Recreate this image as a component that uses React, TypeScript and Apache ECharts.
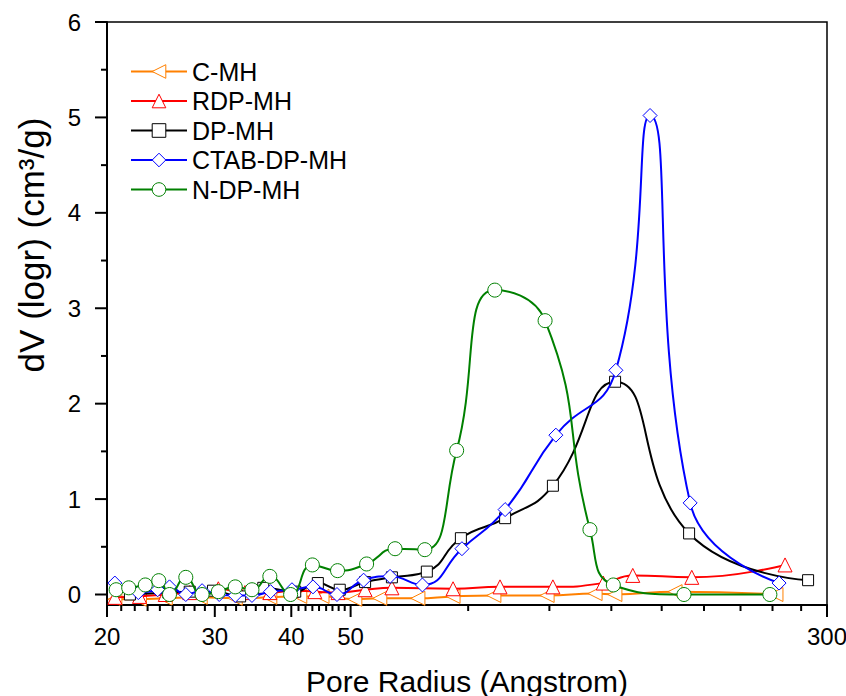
import React, { useEffect, useRef } from "react";
import * as echarts from "echarts";

const FONT = "'Liberation Sans', Arial, Helvetica, sans-serif";

const seriesNames = ["C-MH", "RDP-MH", "DP-MH", "CTAB-DP-MH", "N-DP-MH"];
const seriesColors = ["#FF8000", "#FF0000", "#000000", "#0000FF", "#008000"];

const cmhX = [20.6, 22.6, 24.9, 28.4, 32.4, 36.9, 41.3, 44.9, 50.8, 55.8, 64.4, 73.5, 85.7, 104.7, 125.4, 135.1, 169.4, 247.6];
const cmhY = [-0.05, -0.05, -0.04, -0.03, -0.04, -0.03, -0.02, -0.02, -0.05, -0.04, -0.04, -0.02, -0.01, -0.01, 0.01, 0.0, 0.03, 0.0];

const rdpX = [20.6, 22.6, 24.9, 27.3, 30.4, 33.6, 36.9, 40.1, 43.7, 47.7, 52.8, 58.4, 73.5, 87.7, 107.0, 129.3, 144.5, 180.4, 256.2];
const rdpY = [-0.03, -0.02, 0.0, 0.02, 0.06, 0.02, 0.02, 0.04, 0.03, 0.02, 0.05, 0.07, 0.06, 0.08, 0.08, 0.12, 0.2, 0.18, 0.31];

const dpX = [21.8, 25.2, 27.3, 29.8, 33.0, 36.0, 40.6, 44.2, 48.0, 52.8, 58.4, 66.6, 75.7, 89.4, 107.0, 135.2, 178.6, 279.4];
const dpY = [0.0, 0.02, 0.03, 0.04, -0.02, 0.07, 0.03, 0.12, 0.05, 0.13, 0.18, 0.24, 0.59, 0.8, 1.14, 2.23, 0.64, 0.15];

const ctabX = [20.6, 22.5, 24.2, 25.3, 26.9, 28.6, 30.5, 32.4, 34.5, 37.0, 40.1, 43.4, 47.5, 52.5, 58.0, 65.5, 76.0, 89.4, 108.2, 135.6, 154.2, 179.3, 250.5];
const ctabY = [0.12, 0.02, 0.05, 0.08, 0.0, 0.04, 0.0, -0.01, -0.01, 0.03, 0.05, 0.08, 0.0, 0.15, 0.19, 0.1, 0.48, 0.89, 1.67, 2.35, 5.02, 0.96, 0.12];

const ndpX = [20.7, 21.7, 23.1, 24.3, 25.3, 26.9, 28.6, 30.4, 32.4, 34.5, 36.9, 39.9, 43.3, 47.6, 53.1, 59.1, 66.1, 74.5, 86.0, 103.9, 123.0, 134.3, 175.2, 242.0];
const ndpY = [0.05, 0.07, 0.1, 0.145, 0.0, 0.18, 0.0, 0.03, 0.08, 0.05, 0.19, 0.0, 0.31, 0.25, 0.32, 0.48, 0.47, 1.51, 3.19, 2.87, 0.68, 0.1, 0.0, 0.0];

const xMajorTicks = [20, 30, 40, 50, 300];
const xMajorLabels = ["20", "30", "40", "50", "300"];
const xMinorTicks = [
  21.1, 22.2, 23.3, 24.4, 25.6, 26.7, 27.8, 28.9,
  31.25, 32.5, 33.75, 35, 36.25, 37.5, 38.75,
  41.1, 42.2, 43.3, 44.4, 45.6, 46.7, 47.8, 48.9,
  77.8, 105.6, 133.3, 161.1, 188.9, 216.7, 244.4, 272.2,
];
const yMajorTicks = [0, 1, 2, 3, 4, 5, 6];
const yMajorLabels = ["0", "1", "2", "3", "4", "5", "6"];
const yMinorTicks = [0.5, 1.5, 2.5, 3.5, 4.5, 5.5];

const X_MIN = 20;
const X_MAX = 300;
const Y_MIN = -0.11;
const Y_MAX = 6;

const xTitle = "Pore Radius (Angstrom)";
const yTitle = "dV (logr) (cm³/g)";

function zip(xs: number[], ys: number[]) {
  return xs.map((x, i) => [x, ys[i]]);
}

export default function App() {
  const ref = useRef<HTMLDivElement>(null);

  useEffect(() => {
    if (!ref.current) return;
    const chart = echarts.init(ref.current, null, { renderer: "svg" });

    const symbols = ["triangle", "triangle", "rect", "diamond", "circle"];
    const rotates = [90, 0, 0, 0, 0];
    const sizes = [14, 14, 11, 14, 14];
    const datasets = [zip(cmhX, cmhY), zip(rdpX, rdpY), zip(dpX, dpY), zip(ctabX, ctabY), zip(ndpX, ndpY)];

    const lineSeries = seriesNames.map((name, i) => ({
      name,
      type: "line",
      data: datasets[i],
      smooth: 0.5,
      symbol: symbols[i],
      symbolRotate: rotates[i],
      symbolSize: sizes[i],
      lineStyle: { color: seriesColors[i], width: 2 },
      itemStyle: { color: "#ffffff", borderColor: seriesColors[i], borderWidth: 1 },
      emphasis: { disabled: true },
      z: 3 + i,
    }));

    const textStyle = (text: string, x: number, y: number, align: string) => ({
      text,
      x,
      y,
      align,
      verticalAlign: "middle",
      fontSize: 24,
      fontFamily: FONT,
      fill: "#000",
    });

    const tickSeries = [
      {
        type: "custom",
        silent: true,
        clip: false,
        z: 10,
        data: xMajorTicks.map((v) => [v, Y_MIN]),
        renderItem: (params: any, api: any) => {
          const p = api.coord([api.value(0), Y_MIN]);
          return {
            type: "group",
            children: [
              { type: "line", shape: { x1: p[0], y1: p[1], x2: p[0], y2: p[1] + 12 }, style: { stroke: "#000", lineWidth: 2 } },
              { type: "text", style: textStyle(xMajorLabels[params.dataIndex], p[0], p[1] + 31, "center") },
            ],
          };
        },
      },
      {
        type: "custom",
        silent: true,
        clip: false,
        z: 10,
        data: xMinorTicks.map((v) => [v, Y_MIN]),
        renderItem: (params: any, api: any) => {
          const p = api.coord([api.value(0), Y_MIN]);
          return { type: "line", shape: { x1: p[0], y1: p[1], x2: p[0], y2: p[1] + 6 }, style: { stroke: "#000", lineWidth: 2 } };
        },
      },
      {
        type: "custom",
        silent: true,
        clip: false,
        z: 10,
        data: yMajorTicks.map((v) => [X_MIN, v]),
        renderItem: (params: any, api: any) => {
          const p = api.coord([X_MIN, api.value(1)]);
          return {
            type: "group",
            children: [
              { type: "line", shape: { x1: p[0] - 12, y1: p[1], x2: p[0], y2: p[1] }, style: { stroke: "#000", lineWidth: 2 } },
              { type: "text", style: textStyle(yMajorLabels[params.dataIndex], p[0] - 26, p[1], "right") },
            ],
          };
        },
      },
      {
        type: "custom",
        silent: true,
        clip: false,
        z: 10,
        data: yMinorTicks.map((v) => [X_MIN, v]),
        renderItem: (params: any, api: any) => {
          const p = api.coord([X_MIN, api.value(1)]);
          return { type: "line", shape: { x1: p[0] - 6, y1: p[1], x2: p[0], y2: p[1] }, style: { stroke: "#000", lineWidth: 2 } };
        },
      },
    ];

    chart.setOption({
      animation: false,
      backgroundColor: "#ffffff",
      grid: {
        left: 107,
        top: 22,
        right: 19,
        bottom: 91,
        show: true,
        borderColor: "#000",
        borderWidth: 1.5,
        backgroundColor: "transparent",
      },
      xAxis: {
        type: "log",
        logBase: 10,
        min: X_MIN,
        max: X_MAX,
        axisLine: { show: true, onZero: false, lineStyle: { color: "#000", width: 2 } },
        axisTick: { show: false },
        axisLabel: { show: false },
        splitLine: { show: false },
      },
      yAxis: {
        type: "value",
        min: Y_MIN,
        max: Y_MAX,
        axisLine: { show: true, onZero: false, lineStyle: { color: "#000", width: 2 } },
        axisTick: { show: false },
        axisLabel: { show: false },
        splitLine: { show: false },
      },
      legend: {
        data: seriesNames,
        orient: "vertical",
        left: 130,
        top: 59,
        padding: 0,
        itemGap: 4.5,
        itemWidth: 56,
        itemHeight: 17,
        itemStyle: { borderWidth: 1 },
        lineStyle: { width: 2 },
        textStyle: { fontSize: 25, color: "#000", fontFamily: FONT },
        selectedMode: false,
      },
      graphic: [
        {
          type: "text",
          x: 467,
          y: 681,
          style: { text: xTitle, align: "center", verticalAlign: "middle", fontSize: 30, fontFamily: FONT, fill: "#000" },
        },
        {
          type: "text",
          x: 31,
          y: 245,
          rotation: Math.PI / 2,
          style: { text: yTitle, align: "center", verticalAlign: "middle", fontSize: 35, fontFamily: FONT, fill: "#000" },
        },
      ],
      series: [...lineSeries, ...tickSeries],
    });

    return () => chart.dispose();
  }, []);

  return (
    <div
      ref={ref}
      style={{ position: "fixed", left: 0, top: 0, width: 846, height: 696, background: "#fff" }}
    />
  );
}
